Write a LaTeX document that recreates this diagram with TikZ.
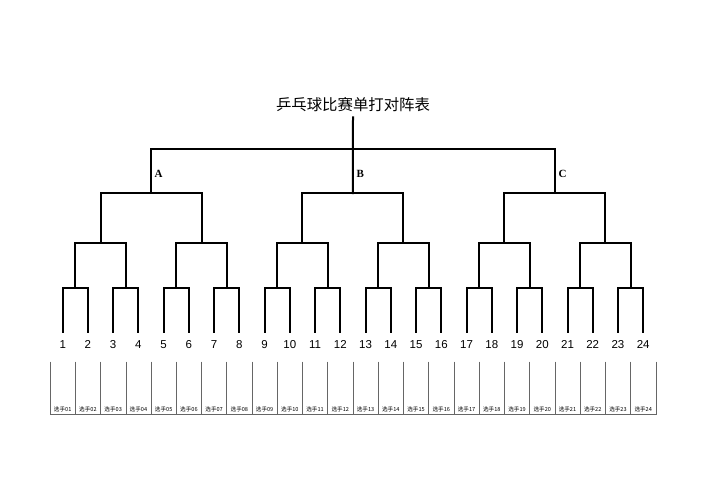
\documentclass[tikz,border=0pt]{standalone}
\usepackage{fontspec}
\usepackage{tikz}
\usetikzlibrary{positioning}
\setmainfont{Liberation Serif}
\newfontfamily\numfont{Liberation Sans}
\newfontfamily\cjk{Noto Sans CJK SC}
\tikzstyle{bracket} = [draw, line width=2pt, line cap=rect]
\tikzstyle{grid}    = [draw=black!60, line width=0.6pt]
\tikzstyle{num}     = [draw=none, fill=none, inner sep=0pt, anchor=base, font=\numfont\fontsize{11.5}{12}\selectfont]
\tikzstyle{player}  = [draw=none, fill=none, inner sep=0pt, anchor=base, font=\cjk\fontsize{5.6}{6}\selectfont]
\tikzstyle{grouplabel} = [draw=none, fill=none, inner sep=0pt, font=\bfseries\fontsize{11}{12}\selectfont]
\tikzstyle{titletext}  = [draw=none, fill=none, inner sep=0pt, font=\cjk\fontsize{15.4}{16}\selectfont]

\begin{document}
\begin{tikzpicture}[x=1pt, y=-1pt]
\useasboundingbox (0,0) rectangle (707,500);

% title ==================================
\node[titletext] (title) at (353,105) {乒乓球比赛单打对阵表};
\coordinate (top) at (353,117.3);

% players ================================
\foreach \i in {1,...,24} {
  \pgfmathsetmacro\xx{62.7+(\i-1)*25.24}
  \coordinate (l\i) at (\xx,331.7);
  \node[num] (n\i) at (\xx,348.2) {\i};
}

% junctions
\foreach \j in {1,...,12} {
  \pgfmathsetmacro\xx{62.7+(2*\j-1.5)*25.24}
  \coordinate (q\j) at (\xx,288.3);
}
\foreach \k in {1,...,6} {
  \pgfmathsetmacro\xx{62.7+(4*\k-2.5)*25.24}
  \coordinate (r\k) at (\xx,243.3);
}
\foreach \m in {1,2,3} {
  \pgfmathsetmacro\xx{62.7+(8*\m-4.5)*25.24}
  \coordinate (g\m) at (\xx,193);
}
\coordinate (t) at (g2 |- 0,148.6);

% group labels
\node[grouplabel, anchor=west] (labA) at ([xshift=3.5pt,yshift=19.5pt]g1) {A};
\node[grouplabel, anchor=west] (labB) at ([xshift=3.5pt,yshift=19.5pt]g2) {B};
\node[grouplabel, anchor=west] (labC) at ([xshift=3.5pt,yshift=19.5pt]g3) {C};

% edges ==================================
\foreach \j in {1,...,12} {
  \pgfmathtruncatemacro\a{2*\j-1}
  \pgfmathtruncatemacro\b{2*\j}
  \path[bracket] (l\a) |- (q\j) -| (l\b);
}
\foreach \k in {1,...,6} {
  \pgfmathtruncatemacro\a{2*\k-1}
  \pgfmathtruncatemacro\b{2*\k}
  \path[bracket] (q\a) |- (r\k) -| (q\b);
}
\foreach \m in {1,2,3} {
  \pgfmathtruncatemacro\a{2*\m-1}
  \pgfmathtruncatemacro\b{2*\m}
  \path[bracket] (r\a) |- (g\m) -| (r\b);
}
\path[bracket] (g1) |- (t) -| (g3);
\path[bracket] (g2) -- (t) -- (top);

% name table =============================
\foreach \i in {1,...,25} {
  \pgfmathsetmacro\xx{62.7+(\i-1.5)*25.24}
  \path[grid] (\xx,361.7) -- (\xx,414.3);
}
\path[grid] (50.1,414.3) -- (656.5,414.3);
\foreach \i in {1,...,24} {
  \pgfmathsetmacro\xx{62.7+(\i-1)*25.24}
  \node[player] (c\i) at (\xx,411.6) {选手\ifnum\i<10 0\fi\i};
}

\end{tikzpicture}
\end{document}
